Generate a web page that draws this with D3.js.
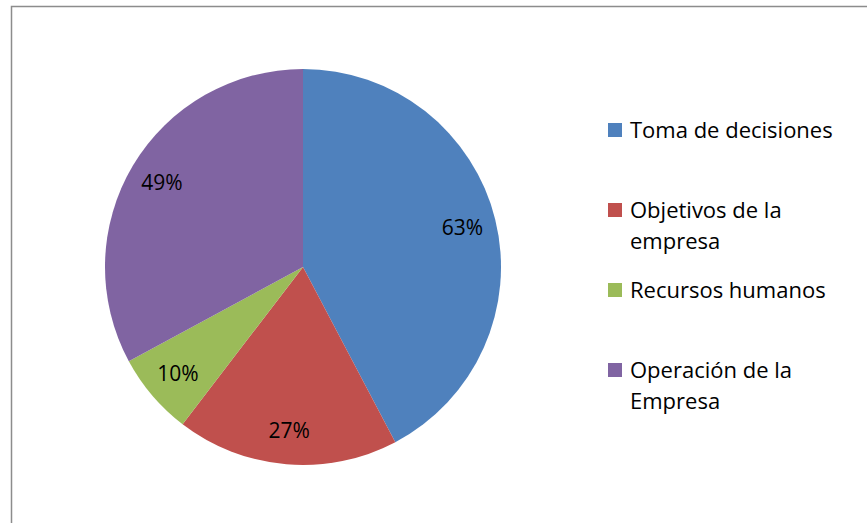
<!DOCTYPE html>
<html>
<head>
<meta charset="utf-8">
<script src="https://cdn.jsdelivr.net/npm/d3@7"></script>
<style>
  body { margin: 0; background: #fff; }
  text { font-family: "Open Sans", "Noto Sans", sans-serif; }
</style>
</head>
<body>
<svg width="867" height="523"></svg>
<script>
const categories = ["Toma de decisiones", "Objetivos de la empresa", "Recursos humanos", "Operación de la Empresa"];
const legendLines = [["Toma de decisiones"], ["Objetivos de la", "empresa"], ["Recursos humanos"], ["Operación de la", "Empresa"]];
const values = [63, 27, 10, 49];
const labels = ["63%", "27%", "10%", "49%"];
const colors = ["#4f81bd", "#c0504d", "#9bbb59", "#8064a2"];

const svg = d3.select("svg");
const cx = 303, cy = 267, r = 198;

// chart frame (only left and top edges visible)
svg.append("path")
  .attr("d", "M11.5,523 V6.5 H867")
  .attr("fill", "none")
  .attr("stroke", "#8c8c8c")
  .attr("stroke-width", 1.5);

const pie = d3.pie().sort(null).value(d => d);
const arcs = pie(values);
const arc = d3.arc().innerRadius(0).outerRadius(r);
const labelArc = d3.arc().innerRadius(r * 0.83).outerRadius(r * 0.83);

const g = svg.append("g").attr("transform", `translate(${cx},${cy})`);

g.selectAll("path")
  .data(arcs)
  .join("path")
  .attr("d", arc)
  .attr("fill", (d, i) => colors[i]);

g.selectAll("text")
  .data(arcs)
  .join("text")
  .attr("transform", d => `translate(${labelArc.centroid(d)})`)
  .attr("text-anchor", "middle")
  .attr("dy", "0.35em")
  .attr("font-size", 21)
  .attr("fill", "#000")
  .text((d, i) => labels[i]);

// legend
const legendY = [130, 210, 290, 370];
const lineH = 31;
const legend = svg.append("g");
categories.forEach((c, i) => {
  const item = legend.append("g").attr("transform", `translate(608,${legendY[i]})`);
  item.append("rect")
    .attr("x", 0).attr("y", -7)
    .attr("width", 14).attr("height", 14)
    .attr("fill", colors[i]);
  const t = item.append("text")
    .attr("x", 22)
    .attr("font-size", 22)
    .attr("fill", "#000");
  legendLines[i].forEach((line, j) => {
    t.append("tspan")
      .attr("x", 22)
      .attr("y", j * lineH)
      .attr("dy", "0.35em")
      .text(line);
  });
});
</script>
</body>
</html>
